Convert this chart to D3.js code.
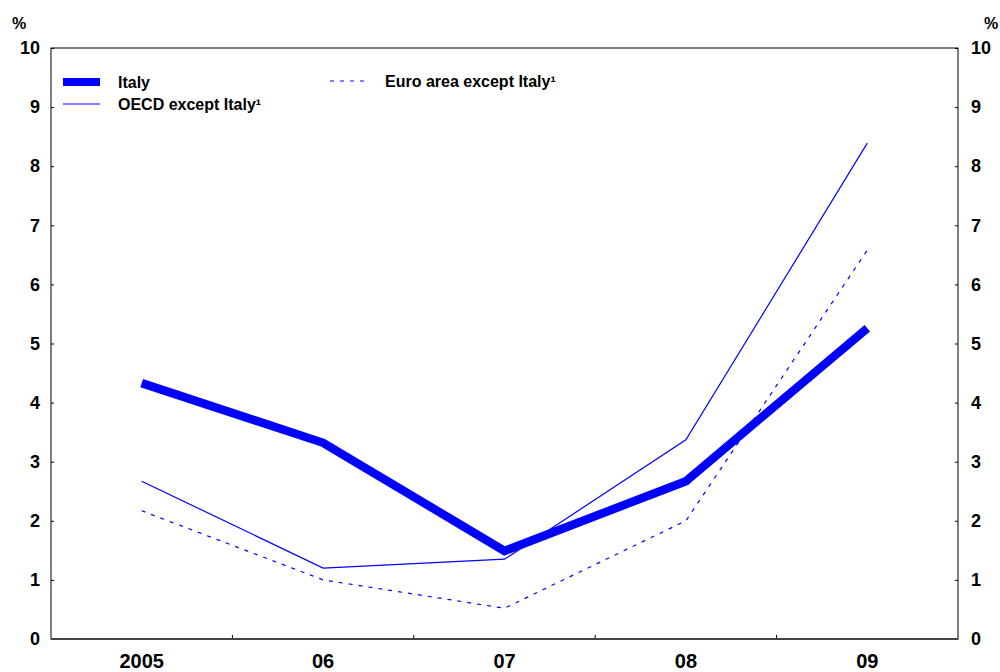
<!DOCTYPE html>
<html>
<head>
<meta charset="utf-8">
<script src="https://cdn.jsdelivr.net/npm/d3@7"></script>
<style>
  body { margin: 0; background: #fff; overflow: hidden; }
  svg { display: block; font-family: "Liberation Sans", Arial, sans-serif; }
</style>
</head>
<body>
<svg id="mainsvg" width="1000" height="672"></svg>
<script>
// data
const years = ['2005', '06', '07', '08', '09'];
const italy = [4.33, 3.32, 1.49, 2.67, 5.26];
const oecd = [2.67, 1.20, 1.35, 3.37, 8.39];
const euro = [2.17, 1.00, 0.52, 2.00, 6.58];
const yTicks = [0, 1, 2, 3, 4, 5, 6, 7, 8, 9, 10];
const seriesNames = ['Italy', 'OECD except Italy¹', 'Euro area except Italy¹'];

const svg = d3.select('#mainsvg');
const margin = { top: 48, right: 42, bottom: 33, left: 51 };
const width = +svg.attr('width');
const height = +svg.attr('height');
const innerWidth = width - margin.left - margin.right;
const innerHeight = height - margin.top - margin.bottom;
const blue = '#0000ff';

const g = svg.append('g')
  .attr('transform', `translate(${margin.left}, ${margin.top})`);

const x = d3.scaleBand().domain(years).range([0, innerWidth]).padding(0);
const y = d3.scaleLinear().domain([0, 10]).range([innerHeight, 0]);
const bw = x.bandwidth();

// left axis
const yLeft = g.append('g')
  .call(d3.axisLeft(y).tickValues(yTicks).tickSize(-3).tickPadding(11));
// right axis
const yRight = g.append('g')
  .attr('transform', `translate(${innerWidth},0)`)
  .call(d3.axisRight(y).tickValues(yTicks).tickSize(-3).tickPadding(13));
[yLeft, yRight].forEach(ax => {
  ax.select('.domain').remove();
  ax.selectAll('text')
    .attr('font-size', 18)
    .attr('font-weight', 'bold')
    .attr('fill', '#000')
    .attr('font-family', '"Liberation Sans", Arial, sans-serif');
  ax.selectAll('line').attr('stroke', '#000');
});

// bottom axis: labels at band centres, ticks at band boundaries
const xAxis = g.append('g')
  .attr('transform', `translate(0,${innerHeight})`)
  .call(d3.axisBottom(x).tickSize(0).tickPadding(15));
xAxis.select('.domain').remove();
xAxis.selectAll('text')
  .attr('font-size', 20)
  .attr('font-weight', 'bold')
  .attr('fill', '#000')
  .attr('font-family', '"Liberation Sans", Arial, sans-serif');

g.selectAll('.xtick')
  .data(years.slice(1))
  .join('line')
  .attr('class', 'xtick')
  .attr('x1', d => x(d))
  .attr('x2', d => x(d))
  .attr('y1', innerHeight)
  .attr('y2', innerHeight - 4)
  .attr('stroke', '#000');

// frame
g.append('rect')
  .attr('width', innerWidth)
  .attr('height', innerHeight)
  .attr('fill', 'none')
  .attr('stroke', '#000')
  .attr('stroke-width', 1);
g.append('line')
  .attr('x1', 0).attr('x2', innerWidth)
  .attr('y1', innerHeight).attr('y2', innerHeight)
  .attr('stroke', '#444').attr('stroke-width', 2);

// % labels
svg.append('text').attr('x', 12).attr('y', 29).text('%')
  .attr('font-size', 16).attr('font-weight', 'bold');
svg.append('text').attr('x', 984).attr('y', 29).text('%')
  .attr('font-size', 16).attr('font-weight', 'bold');

const line = d3.line()
  .x((d, i) => x(years[i]) + bw / 2)
  .y(d => y(d));

g.append('path').datum(euro)
  .attr('d', line)
  .attr('fill', 'none')
  .attr('stroke', blue)
  .attr('stroke-width', 1.2)
  .attr('stroke-dasharray', '4,6');

g.append('path').datum(oecd)
  .attr('d', line)
  .attr('fill', 'none')
  .attr('stroke', blue)
  .attr('stroke-width', 1.2);

g.append('path').datum(italy)
  .attr('d', line)
  .attr('fill', 'none')
  .attr('stroke', blue)
  .attr('stroke-width', 8.5);

// legend
const legend = [
  { name: seriesNames[0], x: 63, y: 82, w: 8, dash: null },
  { name: seriesNames[1], x: 63, y: 104, w: 1.2, dash: null },
  { name: seriesNames[2], x: 330, y: 81, w: 1.2, dash: '4,6' },
];
const lg = svg.append('g');
legend.forEach(d => {
  lg.append('line')
    .attr('x1', d.x).attr('x2', d.x + 37)
    .attr('y1', d.y).attr('y2', d.y)
    .attr('stroke', blue)
    .attr('stroke-width', d.w)
    .attr('stroke-dasharray', d.dash);
  lg.append('text')
    .attr('x', d.x + 55)
    .attr('y', d.y + 6)
    .attr('font-size', 16)
    .attr('font-weight', 'bold')
    .text(d.name);
});
</script>
</body>
</html>
